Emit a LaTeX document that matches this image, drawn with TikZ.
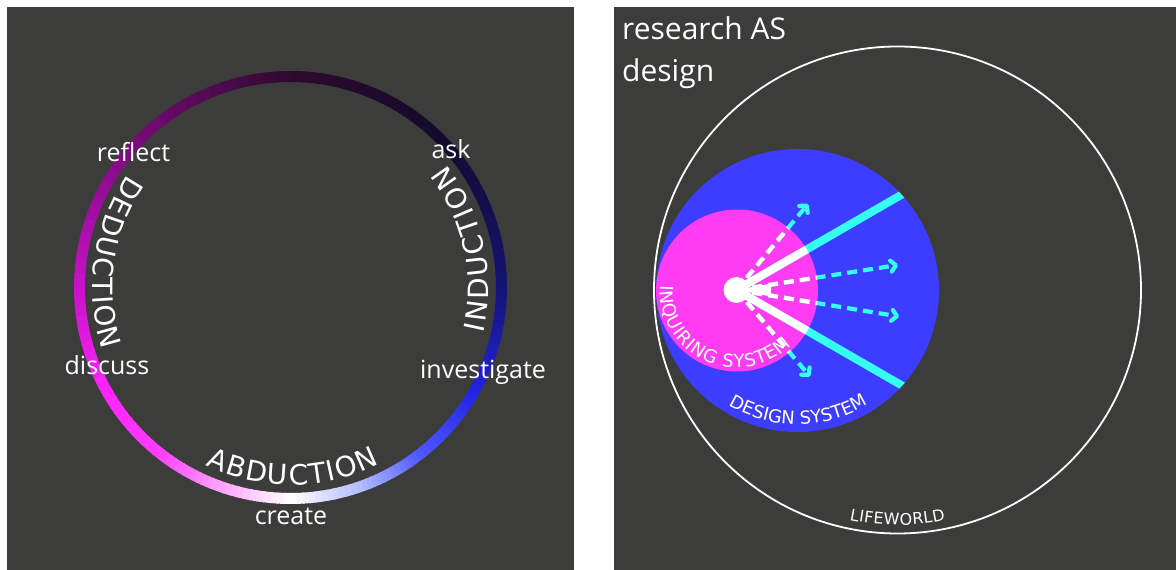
\documentclass[tikz,border=0pt]{standalone}
\usepackage{fontspec}
\setmainfont{Open Sans}
\newfontfamily\capsfont{DejaVu Sans}
\usepackage{xcolor}
\usepackage{tikz}
\usetikzlibrary{arrows.meta,decorations.text}

\definecolor{board}{RGB}{60,60,59}
\definecolor{designblue}{RGB}{61,61,255}
\definecolor{inqpink}{RGB}{255,60,242}
\definecolor{raycyan}{RGB}{52,255,240}
% ring colour stops
\definecolor{rDed}{RGB}{200,18,200}
\definecolor{rPinkA}{RGB}{255,35,255}
\definecolor{rPinkB}{RGB}{255,62,255}
\definecolor{rPinkC}{RGB}{255,150,255}
\definecolor{rWhite}{RGB}{255,255,255}
\definecolor{rBlueC}{RGB}{175,185,255}
\definecolor{rBlueB}{RGB}{80,90,255}
\definecolor{rBlueA}{RGB}{35,35,228}
\definecolor{rNavyA}{RGB}{20,20,115}
\definecolor{rNavyB}{RGB}{20,10,42}
\definecolor{rPlumA}{RGB}{45,10,45}
\definecolor{rPlumB}{RGB}{118,10,118}

\newcommand\ringcaps{\capsfont\fontsize{28}{32}\selectfont}
\newcommand\syscaps{\capsfont\fontsize{18}{22}\selectfont}
\newcommand\lifecaps{\capsfont\fontsize{16}{19}\selectfont}

\begin{document}
\begin{tikzpicture}[x=1pt, y=1pt,
  verb/.style={text=white, font=\fontsize{25}{30}\selectfont, anchor=base, inner sep=0pt},
  title/.style={text=white, font=\fontsize{30}{36}\selectfont, anchor=base west, inner sep=0pt},
  ray/.style={line width=8pt},
  probe/.style={line width=4.2pt, dash pattern=on 10pt off 6pt,
    -{Straight Barb[length=5pt, width=11pt, line join=round, line cap=round]}},
  arclabel/.style={decorate, decoration={text along path, text={#1},
    text align={fit to path}, text color=white}}]
  \useasboundingbox (0,0) rectangle (1176,570);
  \fill[white] (0,0) rectangle (1176,570);
  % boards
  \fill[board] (7,0) rectangle (574,563);
  \fill[board] (614,0) rectangle (1176,563);

  % ---- reasoning cycle ----
  \coordinate (ringc) at (290.5,282.5);
  \foreach \sa/\ea/\ca/\cb in {-180/-150/rDed/rPinkA, -150/-128/rPinkA/rPinkB,
      -128/-112/rPinkB/rPinkC, -112/-90/rPinkC/rWhite, -90/-70/rWhite/rBlueC,
      -70/-53/rBlueC/rBlueB, -53/-30/rBlueB/rBlueA, -30/0/rBlueA/rNavyA,
      0/45/rNavyA/rNavyB, 45/90/rNavyB/rPlumA, 90/135/rPlumA/rPlumB,
      135/180/rPlumB/rDed}{
    \foreach \i in {0,...,11}{
      \pgfmathsetmacro\a{\sa+(\ea-\sa)*\i/12}
      \pgfmathsetmacro\b{\sa+(\ea-\sa)*(\i+1)/12+0.4}
      \pgfmathtruncatemacro\pct{(\i+0.5)*100/12}
      \draw[line width=11pt, color=\cb!\pct!\ca]
        ([shift={(\a:211)}]ringc) arc[start angle=\a, end angle=\b, radius=211];
    }
  }
  % modes along the ring
  \path[arclabel={|\ringcaps|ABDUCTION}]
    ([shift={(-115.6:197.5)}]ringc) arc[start angle=-115.6, end angle=-63.1, radius=197.5];
  \path[arclabel={|\ringcaps|DEDUCTION}]
    ([shift={(145.4:198)}]ringc) arc[start angle=145.4, end angle=198.4, radius=198];
  \path[arclabel={|\ringcaps|INDUCTION}]
    ([shift={(-13.3:198)}]ringc) arc[start angle=-13.3, end angle=38.2, radius=198];
  % verbs
  \node[verb] (reflect) at (133.5,408.5) {reflect};
  \node[verb] (ask) at (451,411.7) {ask};
  \node[verb] (discuss) at (107,195) {discuss};
  \node[verb] (investigate) at (483,191.7) {investigate};
  \node[verb] (create) at (291,45) {create};

  % ---- research as design ----
  \node[title] (rsas) at (622,530.7) {research AS};
  \node[title] (rsdesign) at (622,488.2) {design};
  \coordinate (lifec) at (897.5,280);
  \coordinate (designc) at (797.5,279.5);
  \coordinate (inqc) at (737,279.5);
  \draw[white, line width=1.8pt] (lifec) circle[radius=243.5];
  \fill[designblue] (designc) circle[radius=141.5];
  \fill[inqpink] (inqc) circle[radius=81];

  \coordinate (hub) at (736.5,280);
  \path (hub) ++(30:200) coordinate (rayU);
  \path (hub) ++(-30:200) coordinate (rayL);
  \coordinate (tipA) at (808,366);
  \coordinate (tipB) at (898,305);
  \coordinate (tipC) at (899,253.5);
  \coordinate (tipD) at (810,193.5);
  % cyan in the design system, white inside the inquiring system
  \foreach \col/\cc/\rr in {raycyan/designc/141.5, white/inqc/81}{
    \begin{scope}
      \clip (\cc) circle[radius=\rr];
      \draw[ray, \col] (hub) -- (rayU);
      \draw[ray, \col] (hub) -- (rayL);
      \foreach \t in {tipA,tipB,tipC,tipD}
        \draw[probe, \col] (hub) -- (\t);
    \end{scope}
  }
  \fill[white] (hub) -- (771,286.5) -- (771,273.5) -- cycle;
  \node[circle, fill=white, minimum size=26pt, inner sep=0pt] (core) at (hub) {};

  % system names
  \path[arclabel={|\syscaps|INQUIRING SYSTEM}]
    ([shift={(176:77)}]inqc) arc[start angle=176, end angle=315, radius=77];
  \path[arclabel={|\syscaps|DESIGN SYSTEM}]
    ([shift={(-121:134)}]designc) arc[start angle=-121, end angle=-59, radius=134];
  \path[arclabel={|\lifecaps|LIFEWORLD}]
    ([shift={(-101.8:235)}]lifec) arc[start angle=-101.8, end angle=-78.2, radius=235];
\end{tikzpicture}
\end{document}
